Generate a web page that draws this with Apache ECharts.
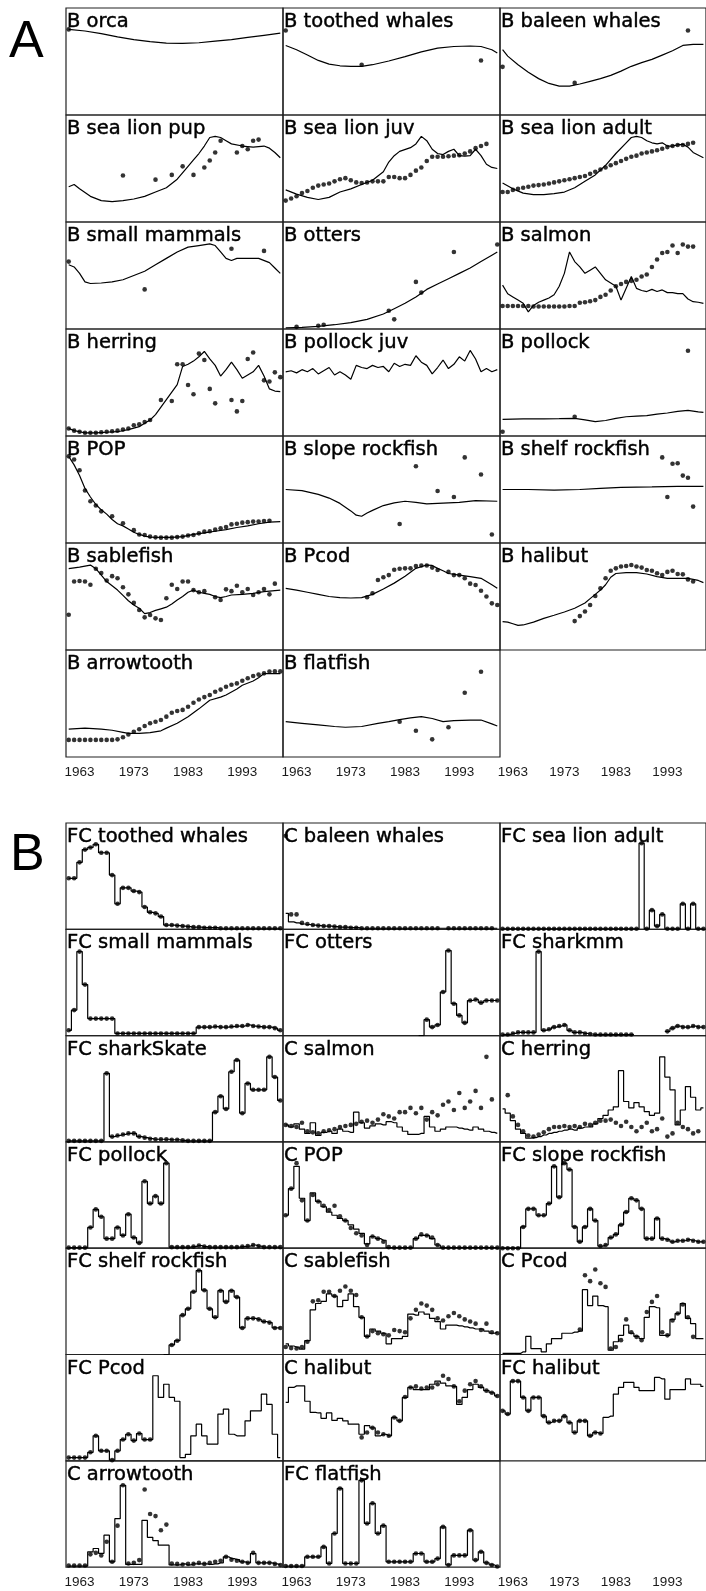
<!DOCTYPE html>
<html>
<head>
<meta charset="utf-8">
<script src="https://cdn.jsdelivr.net/npm/echarts@6/dist/echarts.min.js"></script>
<style>
  html, body { margin: 0; padding: 0; background: #fff; }
  #chart { width: 706px; height: 1591px; }
</style>
</head>
<body>
<div id="chart"></div>
<script>
// ---------- axis settings ----------
const X_MIN = 1960.5;
const X_MAX = 2000.5;
const TICK_YEARS = [1963, 1973, 1983, 1993];
const YEARS = Array.from({ length: 40 }, (_, i) => 1961 + i);

// ---------- section A: biomass, model line [year, value] and observations ----------
const bOrcaLine = [[1961,80],[1964,78.5],[1967,76],[1970,73],[1973,70.5],[1976,68.5],[1979,67.2],[1982,67],[1985,67.5],[1988,69],[1991,70.5],[1994,72.5],[1997,74.5],[2000,76.5]];
const bOrcaObs = [[1961,80]];

const bToothedLine = [[1961,65],[1963,61],[1965,56],[1967,51],[1969,47.5],[1971,46],[1973,45.5],[1975,45.5],[1977,47],[1980,50.5],[1983,54.5],[1986,59],[1989,62.5],[1992,64],[1995,64.5],[1997,64],[1999,61],[2000,58]];
const bToothedObs = [[1961,79],[1975,47],[1997,51]];

const bBaleenLine = [[1961,61],[1962,55],[1964,47],[1966,40],[1968,34],[1970,29.5],[1972,27],[1974,27],[1976,29],[1978,31.5],[1980,34],[1982,37],[1984,41],[1986,45.5],[1988,49],[1990,52],[1992,56],[1994,60],[1996,65],[1998,66],[2000,66]];
const bBaleenObs = [[1961,45],[1975,30],[1997,79]];

const bPupLine = [[1961,33],[1962,35],[1963,31],[1965,24],[1967,20],[1969,19],[1971,20],[1973,21.5],[1975,24],[1977,28],[1979,32],[1981,40],[1983,52],[1984,58],[1985,64],[1986,71],[1987,79],[1988,80],[1989,79],[1990,76],[1991,73],[1993,71],[1995,70],[1997,71],[1998,69],[1999,65],[2000,60]];
const bPupObs = [[1971,43.4],[1977,39.6],[1980,44],[1982,52],[1984,44],[1986,51],[1987,57.5],[1988,65],[1989,76],[1992,65],[1993,71],[1994,68],[1995,76],[1996,77]];

const bJuvLine = [[1961,30],[1963,26],[1965,23],[1967,21],[1969,23],[1971,28],[1973,31],[1975,35],[1977,39],[1979,47],[1980,56],[1981,62],[1982,66],[1984,69.5],[1985,73],[1986,80],[1987,76],[1988,68],[1989,64],[1990,63],[1991,66],[1992,68],[1993,62],[1994,61.5],[1995,62],[1996,68],[1997,62],[1998,54],[1999,51],[2000,50]];
const bJuvObs = [[1961,20],[1962,22],[1963,24],[1964,27],[1965,29],[1966,32],[1967,34],[1968,35],[1969,36],[1970,38],[1971,40],[1972,41],[1973,39],[1974,37],[1975,36.5],[1976,37],[1977,38],[1978,38],[1979,38],[1980,42],[1981,42],[1982,41],[1983,41],[1984,44],[1985,48],[1986,51],[1987,57],[1988,61],[1989,61],[1990,61],[1991,61.5],[1992,62],[1993,62.5],[1994,64],[1995,66],[1996,69],[1997,71],[1998,73]];

const bAdultLine = [[1961,36.5],[1963,31],[1965,27],[1967,25.5],[1969,25.5],[1971,26.5],[1973,28],[1975,32],[1977,38],[1979,44],[1981,53],[1983,64],[1985,74],[1986,79],[1987,80],[1988,79],[1989,76],[1990,74],[1991,73],[1992,74],[1993,71],[1994,71],[1995,72],[1996,72.6],[1997,70],[1998,65],[2000,60]];
const bAdultObs = [[1961,28],[1962,28],[1963,30],[1964,31],[1965,32],[1966,33],[1967,34],[1968,34.5],[1969,35],[1970,36],[1971,37],[1972,38],[1973,39],[1974,40],[1975,41],[1976,42],[1977,43],[1978,45],[1979,47],[1980,49],[1981,51],[1982,53],[1983,55],[1984,57],[1985,59],[1986,61],[1987,62],[1988,64],[1989,65],[1990,66],[1991,67],[1992,68.5],[1993,70],[1994,71],[1995,72],[1996,72],[1997,73],[1998,74]];

const bSmallMamLine = [[1961,60],[1962,58],[1963,52],[1964,44],[1965,42.5],[1967,43],[1969,44],[1971,46],[1973,50],[1975,54],[1977,60],[1979,66],[1981,72],[1983,76.5],[1985,78],[1987,79.5],[1988,78],[1989,72],[1990,66],[1991,64],[1992,66],[1994,66],[1996,66],[1998,62],[1999,57],[2000,52]];
const bSmallMamObs = [[1961,63],[1975,37],[1991,75],[1997,73]];

const bOttersLine = [[1961,1],[1964,1.5],[1967,2.5],[1970,4],[1973,6],[1976,9],[1979,14],[1981,19],[1983,24],[1985,30],[1987,37],[1989,42],[1991,47],[1993,52],[1995,57],[1997,63],[1999,69],[2000,72]];
const bOttersObs = [[1963,2],[1967,3],[1968,4],[1980,17],[1981,9],[1985,44],[1986,34],[1992,72],[2000,79]];

const bSalmonLine = [[1961,41],[1962,33],[1963,30],[1964,27],[1965,24],[1966,16],[1967,22],[1968,25],[1969,27],[1970,29],[1971,32],[1972,40],[1973,52],[1974,72],[1975,63],[1976,58],[1977,52],[1978,55],[1979,58],[1980,52],[1981,46],[1982,43],[1983,40],[1984,27],[1985,38],[1986,49],[1987,38],[1988,36],[1989,35],[1990,37],[1991,35],[1992,36.5],[1993,34],[1994,34],[1995,33],[1996,33],[1997,28],[1998,25.5],[1999,25],[2000,24]];
const bSalmonObs = [[1961,21.5],[1962,21.5],[1963,21.5],[1964,21.5],[1965,21.5],[1966,21.5],[1967,21],[1968,21],[1969,21],[1970,21],[1971,21],[1972,21],[1973,21],[1974,21.5],[1975,21.5],[1976,24.6],[1977,25],[1978,26],[1979,27],[1980,30],[1981,32],[1982,36],[1983,40],[1984,42],[1985,44],[1986,45],[1987,46],[1988,49],[1989,51],[1990,58],[1991,65],[1992,71],[1993,72],[1994,78],[1995,71],[1996,79],[1997,77],[1998,77]];

const bHerringLine = [[1961,7],[1962,5],[1963,4],[1964,3],[1966,3],[1968,3.5],[1970,4],[1972,6],[1974,8.7],[1975,12],[1976,15],[1977,20],[1978,27],[1979,34],[1980,41],[1981,48],[1982,65],[1983,67],[1984,70],[1985,74],[1986,79],[1987,72],[1988,66],[1989,56],[1990,62],[1991,69],[1992,62],[1993,54],[1994,57],[1995,60],[1996,66],[1997,56],[1998,44],[1999,42],[2000,41.5]];
const bHerringObs = [[1961,7],[1962,5],[1963,4],[1964,3],[1965,3],[1966,3],[1967,3.5],[1968,4],[1969,4.5],[1970,5],[1971,6],[1972,7],[1973,10],[1974,11],[1975,13],[1976,15],[1978,33.6],[1980,32.7],[1981,67],[1982,67],[1983,47.7],[1984,39],[1985,77],[1986,71],[1987,44],[1988,30.5],[1991,33.6],[1992,23],[1993,32.7],[1994,72],[1995,78],[1997,52],[1998,51],[1999,59.5],[2000,55]];

const bPollockJuvLine = [[1961,60],[1962,61],[1963,59],[1964,62],[1965,60],[1966,63],[1967,58],[1968,61],[1969,64],[1970,57],[1971,60],[1972,57],[1973,53],[1974,66],[1975,64],[1976,63],[1977,66],[1978,64],[1979,65],[1980,60],[1981,68],[1982,65],[1983,67],[1984,66],[1985,75],[1986,69],[1987,66],[1988,58],[1989,64],[1990,71],[1991,63],[1992,67],[1993,74],[1994,70],[1995,80],[1996,72],[1997,60],[1998,63],[1999,60],[2000,62]];
const bPollockJuvObs = [];

const bPollockLine = [[1961,15.6],[1965,16],[1969,16],[1972,16.2],[1975,16.5],[1977,15],[1979,13.4],[1981,14.5],[1983,16.5],[1985,18],[1987,18.5],[1989,19],[1991,20.5],[1993,21.5],[1995,23],[1997,24],[1999,22.5],[2000,22]];
const bPollockObs = [[1961,4],[1975,18],[1997,79.7]];

const bPopLine = [[1961,81],[1962,73],[1963,63],[1964,51],[1965,43],[1966,36],[1967,31],[1968,27],[1969,22],[1970,18],[1971,16],[1972,13],[1973,10],[1974,8],[1975,6.5],[1976,5.5],[1978,5.3],[1980,5.3],[1982,6],[1984,8],[1986,9.5],[1988,11],[1990,12.5],[1992,14.5],[1994,16],[1996,18],[1998,19.5],[2000,20]];
const bPopObs = [[1961,81],[1962,78],[1963,68],[1964,49],[1965,39],[1966,35],[1967,29.6],[1969,25],[1971,18.4],[1973,12],[1974,8],[1975,7.5],[1976,6],[1977,5.3],[1978,5],[1979,5],[1980,5],[1981,5.5],[1982,6],[1983,7],[1984,7.5],[1985,9],[1986,10.6],[1987,11],[1988,12.5],[1989,13.7],[1990,15],[1991,17.4],[1992,18],[1993,19],[1994,19.5],[1995,20],[1996,20],[1997,20.5],[1998,20.8]];

const bSlopeLine = [[1961,50],[1964,49],[1967,45.5],[1969,42],[1971,37],[1973,30],[1974,26],[1975,25],[1976,28],[1977,30.5],[1979,35],[1981,37.5],[1983,39],[1985,38],[1987,36.5],[1989,37],[1991,37.5],[1993,38],[1996,39.6],[2000,39]];
const bSlopeObs = [[1985,71.7],[1994,80],[1997,64],[1989,48.6],[1992,43],[1982,17.8],[1999,8]];

const bShelfLine = [[1961,50],[1966,50],[1971,49.5],[1976,50],[1980,51],[1984,52],[1990,52.5],[1995,53],[2000,53]];
const bShelfObs = [[1992,80],[1994,74],[1995,74.5],[1996,63],[1997,61],[1993,43],[1998,34]];

const bSablefishLine = [[1961,76],[1963,77.5],[1965,79.4],[1966,76],[1967,70],[1968,64],[1969,60],[1970,56],[1971,51],[1972,46],[1973,42],[1974,39],[1975,34],[1976,35],[1977,37],[1978,38.5],[1979,40],[1980,43],[1981,46.7],[1982,50],[1983,54],[1984,56],[1985,54],[1986,53],[1987,52],[1988,50],[1989,49],[1990,50],[1991,51.4],[1993,52],[1995,53],[1997,54.5],[2000,56]];
const bSablefishObs = [[1961,33],[1962,64],[1963,64.5],[1964,64],[1965,61],[1966,76],[1967,72],[1968,65],[1969,69],[1970,67],[1971,58.6],[1972,52],[1973,44],[1974,37.4],[1975,30.5],[1976,32.7],[1977,29.6],[1978,28],[1979,48.3],[1980,61],[1981,57],[1982,64],[1983,64],[1984,56],[1985,54],[1986,55],[1988,49.3],[1989,46.7],[1990,56.7],[1991,55],[1992,60],[1993,54],[1994,57],[1995,51.4],[1996,54],[1997,57],[1998,52],[1999,62]];

const bPcodLine = [[1961,57.6],[1963,56],[1965,54],[1967,52],[1969,50],[1971,49],[1973,48.6],[1975,49],[1977,52],[1979,57],[1981,62.5],[1983,69],[1985,76.3],[1987,79.4],[1988,79],[1989,76.3],[1990,74],[1991,71.5],[1993,70],[1995,68.5],[1997,67],[1998,64],[1999,61],[2000,57.6]];
const bPcodObs = [[1976,49.3],[1977,53],[1978,65.4],[1979,68],[1980,70],[1981,75],[1982,76],[1983,76.3],[1984,76.3],[1985,78.5],[1986,79],[1987,79],[1988,77],[1989,74.8],[1991,73],[1992,70],[1993,70],[1994,67],[1995,62],[1996,60.7],[1997,55.4],[1998,50],[1999,43.6],[2000,42]];

const bHalibutLine = [[1961,26.5],[1962,26],[1963,24.5],[1964,23],[1965,23.4],[1967,26],[1969,29.6],[1971,32.5],[1973,35.5],[1975,39],[1977,44],[1978,48],[1979,52],[1980,56],[1981,61],[1982,68],[1983,71.5],[1985,72.3],[1987,72.3],[1989,71],[1991,68.5],[1993,67],[1995,67],[1997,67],[1999,65],[2000,63]];
const bHalibutObs = [[1975,27],[1976,31.7],[1977,36],[1978,42],[1979,50.5],[1980,57.6],[1981,67],[1982,74],[1983,76.3],[1984,78],[1985,78.5],[1986,79.4],[1987,78],[1988,77],[1989,74.8],[1990,74],[1991,71.7],[1992,70],[1993,73],[1994,74],[1995,71],[1996,70.7],[1997,66],[1998,64]];

const bArrowLine = [[1961,26],[1964,27],[1967,26],[1969,25],[1971,23],[1972,22],[1974,22],[1976,22.7],[1978,24.5],[1979,27],[1981,31.5],[1983,37.7],[1985,45],[1987,53],[1989,56],[1990,58],[1992,63.5],[1993,67],[1995,71],[1996,74],[1997,78],[2000,78]];
const bArrowObs = [[1961,16],[1962,16],[1963,16],[1964,16],[1965,16],[1966,16],[1967,16],[1968,16],[1969,16],[1970,16.5],[1971,18.4],[1972,21],[1973,23.6],[1974,26],[1975,29],[1976,31.5],[1977,33],[1978,34.6],[1979,37.7],[1980,41.4],[1981,43],[1982,44],[1983,47],[1984,50.7],[1985,53.8],[1986,56],[1987,58],[1988,61],[1989,63],[1990,65.7],[1991,67.5],[1992,68.8],[1993,71.3],[1994,73.6],[1995,75.7],[1996,77],[1997,78.2],[1998,79.8],[1999,80],[2000,80]];

const bFlatfishLine = [[1961,33],[1964,31.5],[1967,30],[1970,28.5],[1972,27.8],[1975,28.5],[1978,31.5],[1980,33],[1982,35],[1984,36.5],[1986,37.7],[1988,36],[1990,33],[1992,34],[1995,34.5],[1997,34.6],[1999,31],[2000,29]];
const bFlatfishObs = [[1982,33],[1985,24.6],[1988,16.5],[1991,27.8],[1994,60],[1997,79.7]];

// ---------- section B: yearly catches 1961-2000 (step lines) and observations ----------
const fcToothedWhales = [48,48,63,75,77,80,72,72,51,24, 39,39,36,35,21,16,15,12,4,4, 3.5,3,2.5,2,2,1.5,1.5,1.5,1,1, 1,1,1,1,1,1,1,1,1,1];
const cBaleenWhales = [15,7,6,5,4.5,4,3.5,3,3,2.5, 2,2,1.5,1.5,1,1,1,1,1,1, 1,1,1,1,1,1,1,1,1,1, 1,1,1,1,1,1,1,1,1,1];
const cBaleenWhalesObs = [[1961,88],[1962,14],[1963,14],[1964,6],[1965,5],[1966,4],[1967,3.5],[1968,3],[1969,3],[1970,2.5],[1971,2],[1972,2],[1973,1.5],[1974,1.5],[1975,1],[1976,1],[1977,1],[1978,1],[1979,1],[1980,1],[1981,1],[1982,1],[1983,1],[1984,1],[1985,1],[1986,1],[1987,1],[1988,1],[1989,1],[1991,1],[1992,1],[1993,1],[1994,1],[1995,1],[1996,1],[1997,1],[1998,1],[1999,1]];
const fcSeaLionAdult = [0.5,0.5,0.5,0.5,0.5,0.5,0.5,0.5,0.5,0.5, 0.5,0.5,0.5,0.5,0.5,0.5,0.5,0.5,0.5,0.5, 0.5,0.5,0.5,0.5,0.5,0.5,0.5,81,0.5,18, 3,14,0.5,0.5,0.5,24,0.5,24,0.5,0.5];
const fcSmallMammals = [5,24,79,48,16,16,16,16,16,2, 2,2,2,2,2,2,2,2,2,2, 2,2,2,2,8,8,8,8.5,8,8, 8.5,9,9,10,9,8.5,8,8,7,5];
const fcOtters = [null,null,null,null,null,null,null,null,null,null, null,null,null,null,null,null,null,null,null,null, null,null,null,null,null,0,15,8,10,41, 80,30,19,12,33,34,31,33,33,33];
const fcSharkmm = [1,1,2,3,3,3,3,79,5,6, 8,9,10,5,3,3,2,1.5,1,1, 1,1,1,1,1,1,null,null,null,null, null,null,4,7,9,8,8,9,8,8];
const fcSharkSkate = [1,1,1,1,1,1,1,64.5,5,6, 7,8,8,5,4,3,2.5,2.5,2.5,2, 2,1.5,1,1,1,1,1,28,43,31, 66,77,27,55,49,49,49,80,61,39];
const cSalmon = [16,14,17,12,8,18,6,9,10,8, 12,10,9,28,18,13,15,17,16,19, 18,14,10,7,7,8,24,14,10,12, 14,14,13,12,11,14,12,10,9,8];
const cSalmonObs = [[1961,16],[1962,15],[1963,14],[1964,18],[1965,10],[1966,9],[1967,8],[1968,10],[1969,11],[1970,12],[1971,14],[1972,15],[1973,16],[1974,17],[1975,19],[1976,20],[1977,18],[1978,21],[1979,26],[1980,24],[1981,22],[1982,28],[1983,28],[1984,32],[1985,27],[1986,32],[1987,21],[1988,28],[1989,25],[1990,35],[1991,38],[1992,30],[1993,46],[1994,32],[1995,38],[1996,48],[1997,32],[1998,80],[1999,40]];
const cHerring = [31,27,20,12,8,3.5,4,5,6.5,8, 9,10,11,12,11,13,14,14,17,22, 25,30,33,67,38,32,37,33,28.5,25, 27,80,61,49,16,30,52,42,30,32];
const cHerringObs = [[1962,44],[1963,24],[1964,16],[1965,10],[1966,6],[1967,5],[1968,7],[1969,9],[1970,12],[1971,14],[1972,14],[1973,15],[1974,14],[1975,15],[1976,14],[1977,17],[1978,16],[1979,18],[1980,20],[1981,20],[1982,21],[1983,18],[1984,15],[1985,19],[1986,14],[1987,10],[1988,14],[1989,18],[1990,10],[1991,12],[1992,22],[1993,5],[1994,8],[1995,18],[1996,14],[1997,12],[1998,8],[1999,10]];
const fcPollock = [0.5,0.5,0.5,0.5,19.5,36.5,29.6,9,9,19.5, 12,32,10,5,63,42,49,42,80,1, 1,1,1,1.5,2.5,1.5,1,1,1,1, 1,1,1.5,2,3,2,1,1,1,1];
const cPOP = [31,56,77,47,26,52,44,39,34,31, 28,26,22,18,14,4,11,9,7.5,0.5, 0.5,0.5,0.5,0.5,9,12,12,9,3,0.5, 0.5,0.5,0.5,0.5,0.5,0.5,0.5,0.5,0.5,0.5];
const cPOPObs = [[1961,31],[1962,56],[1963,80],[1964,45],[1965,26],[1966,50],[1967,44],[1968,40],[1969,36],[1970,40],[1971,30],[1972,26],[1973,19],[1974,14],[1975,12],[1976,3],[1977,11],[1978,9],[1979,6],[1980,1],[1981,0.5],[1982,0.5],[1983,0.5],[1984,0.5],[1985,9],[1986,13],[1987,12],[1988,10],[1989,3],[1990,0.5],[1991,0.5],[1992,0.5],[1993,0.5],[1994,0.5],[1995,0.5],[1996,0.5],[1997,0.5],[1998,0.5],[1999,0.5],[2000,0.5]];
const fcSlopeRockfish = [0,0,0,0,20,37,37,31,31,42, 77,48,80,74,20,6,20,37,26,2, 3,10,13,22,34,47,45,37,9,9, 28,9,8,6,7,7,8,7,6,6];
const fcShelfRockfish = [null,null,null,null,null,null,null,null,null,null, null,null,null,null,null,null,null,null,0,9, 13,37,43,59,79,60.5,43,35,60,49.5, 60,54,25,34,34,33,31,30,25,25];
const cSablefish = [10,8,7,5,13,42,48,50,57,55, 45,51,57,45,35,17,24,22,20,10, 15,15,17,38,37,40,38,34,31,24, 27.6,27.6,27,26,25,24,24,22,20,21];
const cSablefishObs = [[1961,7],[1962,6],[1963,5.6],[1964,7],[1965,12],[1966,50],[1967,51],[1968,59],[1969,59],[1970,55],[1971,60],[1972,64],[1973,60],[1974,56],[1975,35],[1976,17],[1977,22],[1978,20],[1979,19],[1980,18],[1981,23],[1982,22],[1983,21],[1984,34],[1985,42],[1986,48],[1987,46],[1988,42],[1989,34],[1990,32],[1991,36],[1992,39],[1993,36],[1994,33],[1995,31],[1996,29],[1997,23],[1998,29],[1999,21],[2000,20]];
const cPcod = [1,1,1,1,2.5,17,5.6,5.6,2.5,10, 15,15,20,20,21,22,61,46,55,46, 45,4,12,18,27.6,20,17,15,35,45, 44,18,18,33,38.5,48,34,29,15,15];
const cPcodObs = [[1976,23.5],[1977,74.6],[1978,69],[1979,80],[1980,67],[1981,63.6],[1982,5.6],[1983,7],[1984,13.5],[1985,33],[1986,21],[1987,16.6],[1988,13.5],[1989,40],[1990,49.5],[1991,55],[1992,21],[1993,18],[1994,32],[1995,38.5],[1996,47],[1997,35],[1998,16.6]];
const fcPcod = [3,3,3,3,8,23.5,9.4,9.4,0.6,9.4, 20,25,19,25.7,20,20,80,59.6,72,59.6, 56,3,6,23.5,34.5,23.5,15.7,15.7,44,48.6, 25,23.5,23.5,37.6,47,47,62.7,53,25,3];
const cHalibut = [55,69,70.5,70.5,56,45.5,45,40,45,38, 40,37.6,34.5,34.5,25,33,31,23.5,25,23.5, 40.8,37.6,59.6,69,67,67,67,72,75,73, 70.5,70,53,59.6,67,72,69,66,64,61];
const cHalibutObs = [[1975,22],[1976,26.6],[1977,31],[1978,26.6],[1979,25],[1980,23.5],[1981,40.8],[1982,37.6],[1983,60],[1984,69],[1985,70],[1986,68],[1987,69],[1988,69],[1989,72],[1990,80],[1991,77],[1992,70],[1993,56],[1994,66],[1995,72],[1996,75],[1997,70],[1998,66],[1999,64],[2000,61]];
const fcHalibut = [47,44,75,75,59.6,47,59.6,59.6,42,36, 37.6,37.6,42,36,26.6,37.6,37.6,23.5,26.6,25.7, 40.8,42,62.7,69,73.7,73.7,69,66,66,66, 78.4,77,58,67,67,67,77,72,72,70];
const cArrowtooth = [1,1,1,1,14.4,17.5,13,30,5,45.6, 77,2.5,2.5,2.5,44,28,25,20.6,20.6,2, 2,3,2,3,3,3,2.5,3,4,9.7, 8,7,5,4,12.8,4,4,4,3,2];
const cArrowtoothObs = [[1961,1.5],[1962,1.5],[1963,1.5],[1964,1.5],[1965,12],[1966,13.4],[1967,11],[1968,23.8],[1969,5],[1970,39],[1971,77],[1972,3.4],[1973,4],[1974,6.6],[1975,73],[1976,50],[1977,48],[1978,34.7],[1979,40],[1980,3.4],[1981,3],[1982,2.5],[1983,3],[1984,3],[1985,4],[1986,3],[1987,4],[1988,5],[1989,6],[1990,9.7],[1991,7],[1992,6],[1993,5],[1994,4],[1995,13.4],[1996,4],[1997,4],[1998,4],[1999,3],[2000,2]];
const fcFlatfish = [1,1,1,1,9.7,9.7,9.7,19,3.4,31.6, 74,3.4,3.4,3.4,81.6,41,60,31.6,39,5, 5,5,5,5,12.8,12.8,5,5,8,37.8, 2,11,11,11,34.7,6.6,14.4,4,2,0.5];

// ---------- panel tables (row-major, three columns) ----------
const panelsA = [
  { name: 'B orca', line: bOrcaLine, obs: bOrcaObs },
  { name: 'B toothed whales', line: bToothedLine, obs: bToothedObs },
  { name: 'B baleen whales', line: bBaleenLine, obs: bBaleenObs },
  { name: 'B sea lion pup', line: bPupLine, obs: bPupObs },
  { name: 'B sea lion juv', line: bJuvLine, obs: bJuvObs },
  { name: 'B sea lion adult', line: bAdultLine, obs: bAdultObs },
  { name: 'B small mammals', line: bSmallMamLine, obs: bSmallMamObs },
  { name: 'B otters', line: bOttersLine, obs: bOttersObs },
  { name: 'B salmon', line: bSalmonLine, obs: bSalmonObs },
  { name: 'B herring', line: bHerringLine, obs: bHerringObs },
  { name: 'B pollock juv', line: bPollockJuvLine, obs: bPollockJuvObs },
  { name: 'B pollock', line: bPollockLine, obs: bPollockObs },
  { name: 'B POP', line: bPopLine, obs: bPopObs },
  { name: 'B slope rockfish', line: bSlopeLine, obs: bSlopeObs },
  { name: 'B shelf rockfish', line: bShelfLine, obs: bShelfObs },
  { name: 'B sablefish', line: bSablefishLine, obs: bSablefishObs },
  { name: 'B Pcod', line: bPcodLine, obs: bPcodObs },
  { name: 'B halibut', line: bHalibutLine, obs: bHalibutObs },
  { name: 'B arrowtooth', line: bArrowLine, obs: bArrowObs },
  { name: 'B flatfish', line: bFlatfishLine, obs: bFlatfishObs },
  null
];

// obs: list of [year, value] pairs, or {from, to} to mark the catch values themselves
const panelsB = [
  { name: 'FC toothed whales', vals: fcToothedWhales, obs: { from: 1961, to: 2000 } },
  { name: 'C baleen whales', vals: cBaleenWhales, obs: cBaleenWhalesObs },
  { name: 'FC sea lion adult', vals: fcSeaLionAdult, obs: { from: 1961, to: 2000 } },
  { name: 'FC small mammals', vals: fcSmallMammals, obs: { from: 1961, to: 2000 } },
  { name: 'FC otters', vals: fcOtters, obs: { from: 1987, to: 2000 } },
  { name: 'FC sharkmm', vals: fcSharkmm, obs: { from: 1961, to: 2000 } },
  { name: 'FC sharkSkate', vals: fcSharkSkate, obs: { from: 1961, to: 2000 } },
  { name: 'C salmon', vals: cSalmon, obs: cSalmonObs },
  { name: 'C herring', vals: cHerring, obs: cHerringObs },
  { name: 'FC pollock', vals: fcPollock, obs: { from: 1961, to: 2000 } },
  { name: 'C POP', vals: cPOP, obs: cPOPObs },
  { name: 'FC slope rockfish', vals: fcSlopeRockfish, obs: { from: 1961, to: 2000 } },
  { name: 'FC shelf rockfish', vals: fcShelfRockfish, obs: { from: 1980, to: 2000 } },
  { name: 'C sablefish', vals: cSablefish, obs: cSablefishObs },
  { name: 'C Pcod', vals: cPcod, obs: cPcodObs },
  { name: 'FC Pcod', vals: fcPcod, obs: { from: 1961, to: 1976 } },
  { name: 'C halibut', vals: cHalibut, obs: cHalibutObs },
  { name: 'FC halibut', vals: fcHalibut, obs: { from: 1961, to: 1980 } },
  { name: 'C arrowtooth', vals: cArrowtooth, obs: cArrowtoothObs },
  { name: 'FC flatfish', vals: fcFlatfish, obs: { from: 1961, to: 2000 } },
  null
];

// ---------- layout ----------
const COL_LEFT = [66, 283, 500];
const PANEL_W = 217;
const SECTION_A = { top: 8, rowH: 107 };
const SECTION_B = { top: 823, rowH: 106.3 };
const INK = '#000';
const TITLE_FONT = '"DejaVu Sans", Verdana, sans-serif';
const TICK_FONT = '"Liberation Sans", Arial, sans-serif';

const option = {
  animation: false,
  backgroundColor: '#fff',
  title: [],
  grid: [],
  xAxis: [],
  yAxis: [],
  series: []
};

function addPanel(sec, idx, p, isStep) {
  const col = idx % 3;
  const row = Math.floor(idx / 3);
  const gi = option.grid.length;
  const top = sec.top + row * sec.rowH;
  const bottomRow = row === 6;
  option.grid.push({
    left: COL_LEFT[col], top: top, width: PANEL_W, height: sec.rowH,
    show: !!p, borderColor: '#222', borderWidth: 1.2, backgroundColor: 'rgba(0,0,0,0)'
  });
  option.xAxis.push({
    type: 'value', gridIndex: gi, min: X_MIN, max: X_MAX, show: bottomRow,
    axisLine: { show: false }, axisTick: { show: false }, splitLine: { show: false },
    axisLabel: {
      show: bottomRow, customValues: TICK_YEARS, formatter: v => String(v),
      margin: 8, fontSize: 13.5, fontFamily: TICK_FONT, color: '#1a1a1a'
    }
  });
  option.yAxis.push({ type: 'value', gridIndex: gi, min: 0, max: 100, show: false, splitLine: { show: false } });
  if (!p) return;

  option.title.push({
    text: p.name, left: COL_LEFT[col] + 1, top: top + 4, padding: 0,
    textStyle: {
      fontFamily: TITLE_FONT, fontSize: 19.5, fontWeight: 'normal', color: INK,
      textBorderColor: INK, textBorderWidth: 0.45
    }
  });

  let lineData, obsData;
  if (isStep) {
    lineData = YEARS.map((y, k) => [y, p.vals[k]]);
    if (Array.isArray(p.obs)) {
      obsData = p.obs;
    } else {
      obsData = YEARS.map((y, k) => [y, p.vals[k]])
        .filter(d => d[0] >= p.obs.from && d[0] <= p.obs.to && d[1] != null);
    }
  } else {
    lineData = p.line;
    obsData = p.obs;
  }

  option.series.push({
    type: 'line', xAxisIndex: gi, yAxisIndex: gi, data: lineData,
    step: isStep ? 'middle' : false, connectNulls: false,
    symbol: 'none', silent: true,
    lineStyle: { color: INK, width: 1.2 }
  });
  option.series.push({
    type: 'scatter', xAxisIndex: gi, yAxisIndex: gi, data: obsData,
    symbol: 'circle', symbolSize: 4.6, silent: true,
    itemStyle: { color: INK }
  });
}

panelsA.forEach((p, i) => addPanel(SECTION_A, i, p, false));
panelsB.forEach((p, i) => addPanel(SECTION_B, i, p, true));

// section letters
option.title.push({ text: 'A', left: 9, top: 17, padding: 0,
  textStyle: { fontFamily: TICK_FONT, fontSize: 52, fontWeight: 'normal', color: '#000' } });
option.title.push({ text: 'B', left: 10, top: 830, padding: 0,
  textStyle: { fontFamily: TICK_FONT, fontSize: 52, fontWeight: 'normal', color: '#000' } });

const chart = echarts.init(document.getElementById('chart'), null, { renderer: 'canvas', width: 706, height: 1591 });
chart.setOption(option);
</script>
</body>
</html>
